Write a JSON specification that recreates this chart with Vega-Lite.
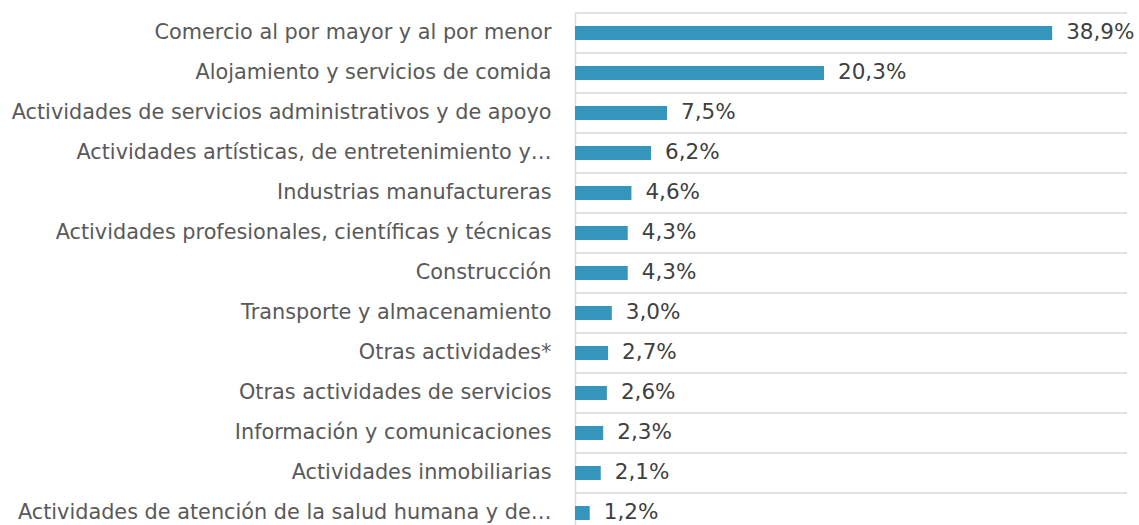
{
  "$schema": "https://vega.github.io/schema/vega-lite/v6.json",
  "width": 552,
  "height": 520,
  "autosize": {"type": "none"},
  "padding": {"top": 13, "left": 575, "right": 12, "bottom": 0},
  "background": "white",
  "config": {
    "view": {"stroke": null},
    "font": "DejaVu Sans",
    "locale": {"number": {"decimal": ",", "thousands": ".", "grouping": [3], "currency": ["", " €"]}}
  },
  "data": {"values": [
    {"sector": "Comercio al por mayor y al por menor", "share": 0.389},
    {"sector": "Alojamiento y servicios de comida", "share": 0.203},
    {"sector": "Actividades de servicios administrativos y de apoyo", "share": 0.075},
    {"sector": "Actividades artísticas, de entretenimiento y…", "share": 0.062},
    {"sector": "Industrias manufactureras", "share": 0.046},
    {"sector": "Actividades profesionales, científicas y técnicas", "share": 0.043},
    {"sector": "Construcción", "share": 0.043},
    {"sector": "Transporte y almacenamiento", "share": 0.030},
    {"sector": "Otras actividades*", "share": 0.027},
    {"sector": "Otras actividades de servicios", "share": 0.026},
    {"sector": "Información y comunicaciones", "share": 0.023},
    {"sector": "Actividades inmobiliarias", "share": 0.021},
    {"sector": "Actividades de atención de la salud humana y de…", "share": 0.012}
  ]},
  "encoding": {
    "y": {
      "field": "sector", "type": "nominal", "sort": null,
      "scale": {"paddingInner": 0, "paddingOuter": 0},
      "axis": {
        "title": null, "ticks": false, "grid": false,
        "domainColor": "#d9d9d9", "domainWidth": 1.5,
        "labelFont": "DejaVu Sans", "labelFontSize": 20.8, "labelColor": "#595959",
        "labelPadding": 24, "labelLimit": 700
      }
    }
  },
  "layer": [
    {
      "mark": {"type": "rule", "color": "#d9d9d9", "strokeWidth": 1.5},
      "encoding": {"y": {"field": "sector", "type": "nominal", "sort": null, "bandPosition": 0}}
    },
    {
      "mark": {"type": "bar", "color": "#3595bd", "size": 14},
      "encoding": {
        "x": {"field": "share", "type": "quantitative", "scale": {"domain": [0, 0.45]}, "axis": null}
      }
    },
    {
      "mark": {"type": "text", "align": "left", "dx": 14, "fontSize": 21.5, "color": "#404040", "font": "DejaVu Sans"},
      "encoding": {
        "x": {"field": "share", "type": "quantitative"},
        "text": {"field": "share", "type": "quantitative", "format": ".1%"}
      }
    }
  ]
}
